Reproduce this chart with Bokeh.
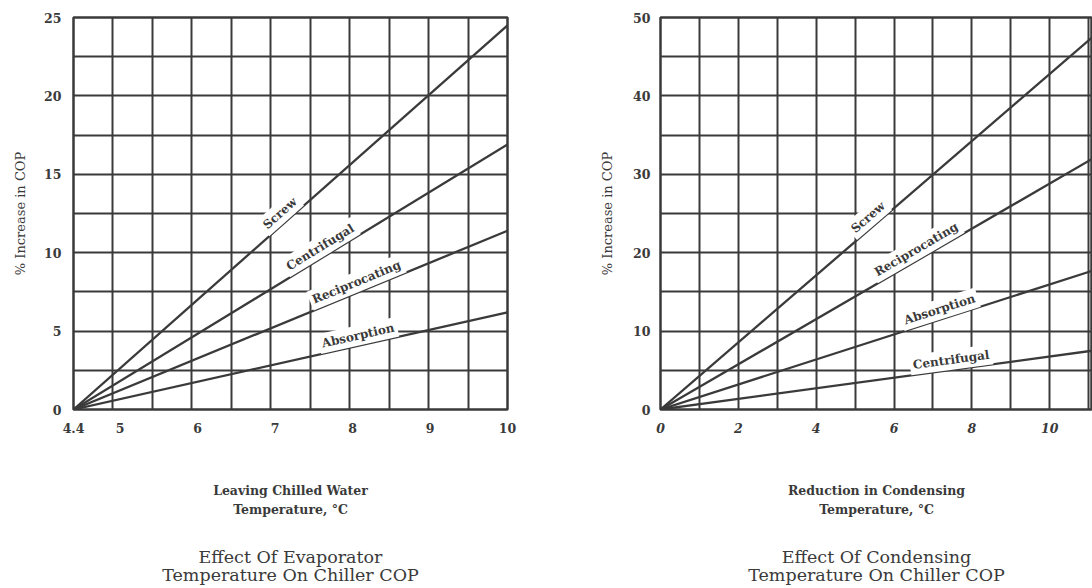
import math
import numpy as np
from bokeh.plotting import figure
from bokeh.models import Range1d, FixedTicker, Label, LinearAxis
from bokeh.layouts import row
from bokeh.embed import file_html
from bokeh.resources import INLINE

# ---------------- data: Effect of evaporator temperature ----------------
evap_x = [4.4, 10.0]
evap_names = ["Screw", "Centrifugal", "Reciprocating", "Absorption"]
evap_screw = [0.0, 24.5]
evap_centrifugal = [0.0, 16.9]
evap_reciprocating = [0.0, 11.4]
evap_absorption = [0.0, 6.2]
evap_label_x = [7.15, 7.65, 8.1, 8.1]
evap_xticks = [4.4, 5, 6, 7, 8, 9, 10]
evap_xtick_labels = ["4.4", "5", "6", "7", "8", "9", "10"]
evap_yticks = [0, 5, 10, 15, 20, 25]

# ---------------- data: Effect of condensing temperature ----------------
cond_x = [0.0, 11.1]
cond_names = ["Screw", "Reciprocating", "Absorption", "Centrifugal"]
cond_screw = [0.0, 47.5]
cond_reciprocating = [0.0, 32.0]
cond_absorption = [0.0, 17.7]
cond_centrifugal = [0.0, 7.5]
cond_label_x = [5.5, 6.7, 7.25, 7.5]
cond_xticks = [0, 2, 4, 6, 8, 10]
cond_xtick_labels = ["0", "2", "4", "6", "8", "10"]
cond_yticks = [0, 10, 20, 30, 40, 50]

INK = "#3a3a3a"
SERIF = "DejaVu Serif"
H = 588
TOP = 17
FH = 392


def make_chart(xs, names, series, label_xs, xr, yr, xticks, xtick_labels, yticks,
               xgrid, ygrid, xlabel, title, width, bl, br, ylab_standoff,
               ytick_standoff, italic_x=False):
    p = figure(width=width, height=H, x_range=Range1d(*xr), y_range=Range1d(*yr),
               output_backend="svg", toolbar_location=None,
               min_border_left=bl, min_border_right=br, min_border_top=TOP,
               min_border_bottom=H - TOP - FH,
               background_fill_color="white", border_fill_color="white")
    fw = width - bl - br
    p.outline_line_color = INK
    p.outline_line_width = 2.5
    p.outline_line_alpha = 1.0

    for g in p.xgrid:
        g.ticker = FixedTicker(ticks=list(xgrid))
    for g in p.ygrid:
        g.ticker = FixedTicker(ticks=list(ygrid))
    p.grid.grid_line_color = INK
    p.grid.grid_line_width = 2
    p.grid.grid_line_alpha = 1.0

    p.xaxis.ticker = FixedTicker(ticks=xticks)
    p.xaxis.major_label_overrides = {t: s for t, s in zip(xticks, xtick_labels)}
    p.yaxis.ticker = FixedTicker(ticks=yticks)
    p.axis.axis_line_color = None
    p.axis.major_tick_line_color = None
    p.axis.minor_tick_line_color = None
    p.axis.major_tick_out = 0
    p.axis.major_tick_in = 0
    p.axis.major_label_text_font = SERIF
    p.axis.major_label_text_font_size = "12.5px"
    p.axis.major_label_text_font_style = "bold"
    p.axis.major_label_text_color = INK
    p.xaxis.major_label_standoff = 13
    p.yaxis.major_label_standoff = ytick_standoff
    if italic_x:
        p.xaxis.major_label_text_font_style = "bold italic"

    p.yaxis.axis_label = "% Increase in COP"
    p.yaxis.axis_label_text_font = SERIF
    p.yaxis.axis_label_text_font_size = "13px"
    p.yaxis.axis_label_text_font_style = "normal"
    p.yaxis.axis_label_text_color = INK
    p.yaxis.axis_label_standoff = ylab_standoff

    p.xaxis.axis_label = xlabel
    p.xaxis.axis_label_text_font = SERIF
    p.xaxis.axis_label_text_font_size = "12.5px"
    p.xaxis.axis_label_text_font_style = "bold"
    p.xaxis.axis_label_text_line_height = 1.3
    p.xaxis.axis_label_text_color = INK
    p.xaxis.axis_label_standoff = 47

    # chart caption, drawn as the label of a tick-less axis below the first one
    cap = LinearAxis(ticker=FixedTicker(ticks=[]), axis_label=title,
                     axis_line_color=None, major_tick_line_color=None,
                     minor_tick_line_color=None, major_tick_out=0, major_tick_in=0,
                     major_label_standoff=0, axis_label_standoff=26,
                     axis_label_text_font=SERIF, axis_label_text_font_size="17.5px",
                     axis_label_text_font_style="normal",
                     axis_label_text_line_height=0.9,
                     axis_label_text_color=INK)
    p.add_layout(cap, "below")

    xpx = fw / (xr[1] - xr[0])
    ypx = FH / (yr[1] - yr[0])
    for name, ys in zip(names, series):
        p.line(xs, ys, line_color=INK, line_width=2.3)
    for name, ys, lx in zip(names, series, label_xs):
        ly = float(np.interp(lx, xs, ys))
        slope = (ys[1] - ys[0]) / (xs[1] - xs[0]) * ypx / xpx
        th = math.atan(slope)
        d = 10
        p.add_layout(Label(x=lx, y=ly, text=name, angle=th,
                           x_offset=-math.sin(th) * d, y_offset=math.cos(th) * d,
                           text_align="center", text_baseline="middle",
                           text_font=SERIF, text_font_size="12px",
                           text_font_style="bold", text_color=INK,
                           background_fill_color="white", padding=3))
    return p


p1 = make_chart(evap_x, evap_names,
                [evap_screw, evap_centrifugal, evap_reciprocating, evap_absorption],
                evap_label_x, (4.4, 10.0), (0, 25), evap_xticks, evap_xtick_labels,
                evap_yticks, np.linspace(4.4, 10.0, 12), np.arange(0, 25.1, 2.5),
                "Leaving Chilled Water\nTemperature, °C",
                "Effect Of Evaporator\nTemperature On Chiller COP",
                548, 73, 41, 13, 12)

p2 = make_chart(cond_x, cond_names,
                [cond_screw, cond_reciprocating, cond_absorption, cond_centrifugal],
                cond_label_x, (0.0, 11.1), (0, 50), cond_xticks, cond_xtick_labels,
                cond_yticks, np.arange(0, 11.5, 1), np.arange(0, 50.1, 5),
                "Reduction in Condensing\nTemperature, °C",
                "Effect Of Condensing\nTemperature On Chiller COP",
                544, 112, 0, 15, 10, italic_x=True)

layout = row(p1, p2, spacing=0)
open("out.html", "w").write(file_html(layout, INLINE))
